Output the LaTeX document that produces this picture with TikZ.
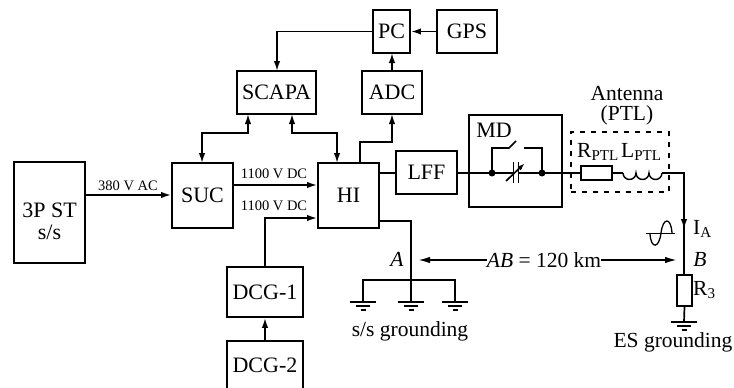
\documentclass[tikz,border=0pt]{standalone}
\usepackage{fontspec}
\setmainfont{Liberation Serif}
\usetikzlibrary{arrows.meta}
\tikzset{
  x=1pt,y=-1pt,
  blockbox/.style={draw,line width=1.9pt,inner sep=0pt},
  wire/.style={line width=1.7pt},
  arw/.style={wire,-{Latex[length=10pt,width=6.5pt]}},
  biarw/.style={wire,{Latex[length=10pt,width=6.5pt]}-{Latex[length=10pt,width=6.5pt]}},
  lbl/.style={font=\fontsize{22}{24}\selectfont,inner sep=0pt},
  small/.style={font=\fontsize{14.5}{16}\selectfont,inner sep=0pt},
  mid/.style={font=\fontsize{21.5}{21}\selectfont,inner sep=0pt},
  dot/.style={circle,fill,inner sep=0pt,minimum size=7pt},
}
\newcommand{\gnd}[1]{%
  \draw[wire] ([xshift=-13pt]#1) -- ([xshift=13pt]#1);
  \draw[wire] ([xshift=-7pt,yshift=-4pt]#1) -- ([xshift=7pt,yshift=-4pt]#1);
  \draw[wire] ([xshift=-2.5pt,yshift=-8pt]#1) -- ([xshift=2.5pt,yshift=-8pt]#1);}
\newcommand{\boxnode}[6]{% name, x1,y1,x2,y2,text
  \node[blockbox,lbl,minimum width={#4-#2},minimum height={#5-#3},align=center] (#1) at ({(#2+#4)/2},{(#3+#5)/2}) {#6};}
\begin{document}
\begin{tikzpicture}
\useasboundingbox (0,0) rectangle (734,388);
\boxnode{st}{14}{162}{85}{263}{}
\node[lbl,anchor=base] (stt) at (49.5,217) {3P ST};
\node[lbl,anchor=base] (sts) at (49.5,239) {s/s};
\boxnode{suc}{172}{163}{233}{228}{SUC}
\boxnode{hi}{318}{163}{379}{228}{HI}
\boxnode{scapa}{237}{71}{316}{114}{SCAPA}
\boxnode{adc}{362}{71}{422}{114}{ADC}
\boxnode{pc}{373}{10}{410}{53}{PC}
\boxnode{gps}{437}{10}{497}{53}{GPS}
\boxnode{lff}{396}{151}{457}{194}{LFF}
\boxnode{dcga}{227}{267}{303}{317}{DCG-1}
\node[blockbox,minimum width=76pt,minimum height=60pt] (dcgb) at (265,371) {};
\node[lbl,anchor=base] (dcgbt) at (265,372) {DCG-2};
\node[draw,line width=1.9pt,minimum width=93pt,minimum height=92pt,inner sep=0pt] (md) at (515.5,161) {};
\node[lbl] (mdt) at (494,130) {MD};
\node[draw,line width=1.5pt,dash pattern=on 5pt off 6pt,minimum width=98pt,minimum height=60pt,inner sep=0pt] (ant) at (620,162) {};
\node[mid,anchor=base] (anta) at (627,100) {Antenna};
\node[mid,anchor=base] (antb) at (627,120) {(PTL)};
% connectors
\draw[arw] (st.east |- 0,195) -- (suc.west |- 0,195);
\node[small,anchor=base] (l380) at (128,190) {380 V AC};
\draw[arw] (suc.east |- 0,185) -- (hi.west |- 0,185);
\node[small,anchor=base] (l1) at (274,178) {1100 V DC};
\node[small,anchor=base] (l2) at (274,210) {1100 V DC};
\draw[arw] (dcga.north) -- (265,218) -- (hi.west |- 0,218);
\draw[arw] (dcgb.north) -- (dcga.south);
\draw[biarw] (248,114) -- (248,133) -- (202,133) -- (202,163);
\draw[biarw] (292,114) -- (292,133) -- (337,133) -- (337,163);
\draw[arw] (pc.west) -- (277,31.5) -- (277,71);
\draw[arw] (gps.west) -- (pc.east);
\draw[arw] (392,71) -- (392,53);
\draw[arw] (360,163) -- (360,142) -- (392,142) -- (392,114);
\draw[wire] (hi.east |- 0,173) -- (lff.west |- 0,173);
\draw[wire] (lff.east |- 0,173) -- (514,173);
\draw[wire] (518,173) -- (581,173);
% MD internals
\node[dot] (d1) at (492,173) {};
\node[dot] (d2) at (542,173) {};
\draw[wire] (d1.center) -- (492,148) -- (509,148) -- (516,141);
\draw[wire] (524,148) -- (542,148) -- (d2.center);
\draw[wire] (513.5,162) -- (513.5,183);
\draw[wire] (518.5,162) -- (518.5,183);
\draw[wire,-{Latex[length=8pt,width=5pt]}] (506,181) -- (525,163);
% RL
\node[draw,line width=1.7pt,minimum width=31pt,minimum height=14pt,inner sep=0pt] (rp) at (596.5,173) {};
\node[mid,anchor=base west] (rpt) at (577,157) {R\textsubscript{PTL}};
\node[mid,anchor=base west] (lpt) at (621,157) {L\textsubscript{PTL}};
\draw[wire] (rp.east) -- (623,173);
\draw[line width=1.4pt] (623,173) arc (180:0:6.5) arc (180:0:6.5) arc (180:0:6.5);
\draw[wire] (662,173) -- (684,173) -- (684,275);
\draw[wire,-{Latex[length=10pt,width=6.5pt]}] (684,200) -- (684,229);
% sine
\draw[wire] (646,233.5) -- (675,233.5);
\draw[line width=1.3pt] (650,234) .. controls (651,249) and (659,249) .. (661,233) .. controls (663,217) and (671,217) .. (672,233);
\node[mid,anchor=base west] (ia) at (693,234) {I\textsubscript{A}};
% R3
\node[draw,line width=1.7pt,minimum width=15pt,minimum height=31pt,inner sep=0pt] (r3) at (684.5,290.5) {};
\node[mid,anchor=base west] (r3t) at (693,295) {R\textsubscript{3}};
\coordinate (g4) at (684,322);
\draw[wire] (r3.south) -- (g4);
\gnd{g4}
\node[mid,anchor=base] (est) at (673,347) {ES grounding};
% HI ground
\draw[wire] (hi.east |- 0,221) -- (411,221) -- (411,302);
\draw[wire] (363,302) -- (363,280) -- (455,280) -- (455,302);
\coordinate (g1) at (363,302);
\coordinate (g2) at (411,302);
\coordinate (g3) at (455,302);
\gnd{g1}\gnd{g2}\gnd{g3}
\node[mid,anchor=base] (sst) at (410,336) {s/s grounding};
% AB
\node[mid,anchor=base] (lA) at (397,266) {\itshape A};
\node[mid,anchor=base] (lB) at (700,266) {\itshape B};
\node[mid,anchor=base] (ab) at (544,267) {\textit{AB} = 120 km};
\draw[wire,-{Latex[length=12pt,width=6.5pt]}] (ab.west |- 0,260) -- (418,260);
\draw[wire,-{Latex[length=12pt,width=6.5pt]}] (ab.east |- 0,260) -- (677,260);
\end{tikzpicture}
\end{document}
